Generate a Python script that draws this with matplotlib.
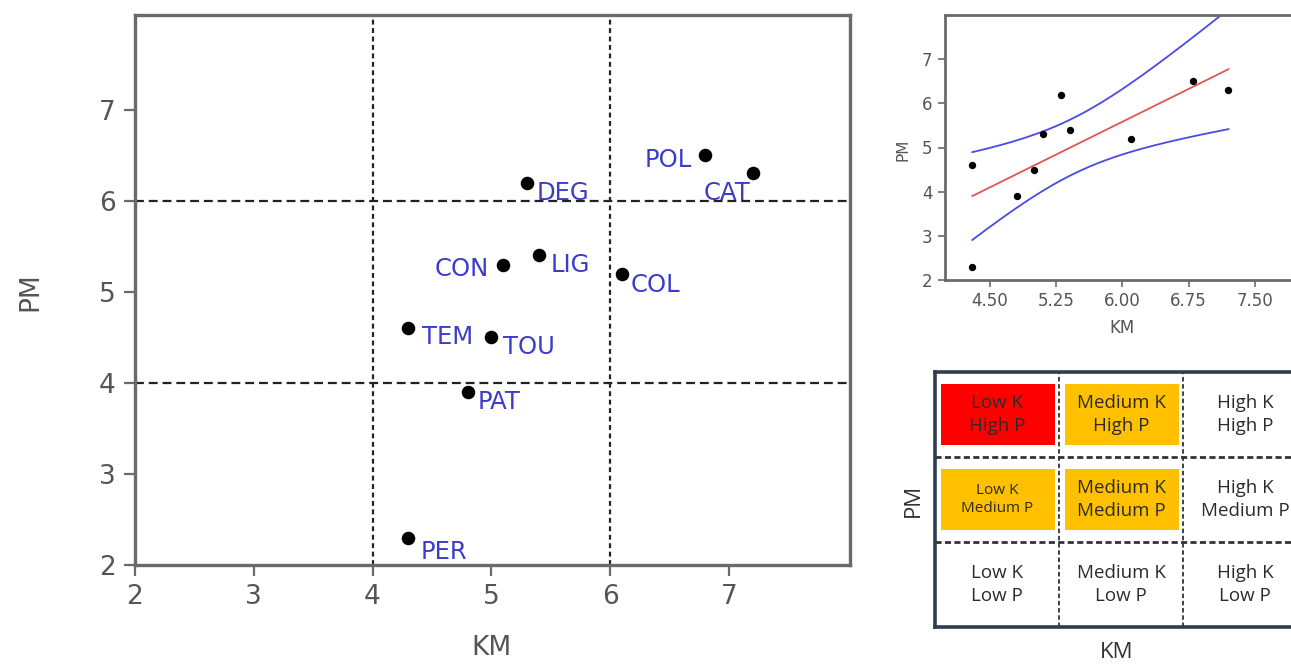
import numpy as np
import matplotlib
matplotlib.use("Agg")
import matplotlib.pyplot as plt
from matplotlib.patches import Rectangle

# ---------------- data ----------------
names = ["PER", "TEM", "PAT", "TOU", "CON", "LIG", "DEG", "COL", "POL", "CAT"]
km = [4.3, 4.3, 4.8, 5.0, 5.1, 5.4, 5.3, 6.1, 6.8, 7.2]
pm = [2.3, 4.6, 3.9, 4.5, 5.3, 5.4, 6.2, 5.2, 6.5, 6.3]

main_ticks = [2, 3, 4, 5, 6, 7]
km_thresholds = [4, 6]
pm_thresholds = [4, 6]

small_xticks = [4.50, 5.25, 6.00, 6.75, 7.50]
small_xticklabels = ["4.50", "5.25", "6.00", "6.75", "7.50"]
small_yticks = [2, 3, 4, 5, 6, 7]

k_levels = ["Low", "Medium", "High"]
p_levels = ["Low", "Medium", "High"]      # bottom -> top
cell_fill = [                              # rows bottom -> top, cols Low/Medium/High K
    [None, None, None],
    ["#ffc000", "#ffc000", None],
    ["#ff0000", "#ffc000", None],
]

# ---------------- styling / layout ----------------
W, H = 1291, 664
label_offsets = {   # pixel offsets of the point labels (ha)
    "PER": (12, -14, "left"), "TEM": (14, -9, "left"), "PAT": (10, -10, "left"),
    "TOU": (12, -10, "left"), "CON": (-14, -4, "right"), "LIG": (12, -10, "left"),
    "DEG": (10, -10, "left"), "COL": (9, -11, "left"), "POL": (-13, -5, "right"),
    "CAT": (-2, -20, "right"),
}
GRAY = "#555555"
SPINE = "#6a6a6a"
BLUE = "#3b3bcc"
GRID_FONT = ["Open Sans", "DejaVu Sans"]

fig = plt.figure(figsize=(W / 100, H / 100), dpi=100)
fig.patch.set_facecolor("white")

# ---------------- main scatter ----------------
ax = fig.add_axes([135 / W, 1 - 565 / H, 715 / W, 550 / H])
ax.set_xlim(2, 8.02)
ax.set_ylim(2, 8.04)
for v in km_thresholds:
    ax.axvline(v, color="#222222", lw=1.6, linestyle=(0, (2.2, 1.6)), zorder=1)
for v in pm_thresholds:
    ax.axhline(v, color="#222222", lw=1.6, linestyle=(0, (4, 2.2)), zorder=1)
ax.scatter(km, pm, s=95, color="black", zorder=3, linewidths=0)
for n, x, y in zip(names, km, pm):
    dx, dy, ha = label_offsets[n]
    ax.annotate(n, (x, y), xytext=(dx, dy), textcoords="offset pixels",
                ha=ha, va="center", color=BLUE, fontsize=17.5, zorder=4)
ax.set_xticks(main_ticks)
ax.set_yticks(main_ticks)
ax.tick_params(direction="out", length=8, width=1.6, colors=SPINE,
               labelcolor=GRAY, labelsize=19, pad=6)
for s in ax.spines.values():
    s.set_color(SPINE)
    s.set_linewidth(2.4)
fig.text(30 / W, 1 - 292 / H, "PM", rotation=90, ha="center", va="center",
         fontsize=19, color=GRAY)
fig.text(492 / W, 1 - 648 / H, "KM", ha="center", va="center",
         fontsize=19, color=GRAY)

# ---------------- small regression plot ----------------
ax2 = fig.add_axes([945 / W, 1 - 280 / H, 355 / W, 265 / H])
ax2.set_xlim(3.99, 8.01)
ax2.set_ylim(2, 8)
x = np.array(km)
y = np.array(pm)
n = len(x)
slope, intercept = np.polyfit(x, y, 1)
resid = y - (slope * x + intercept)
s_err = np.sqrt(np.sum(resid ** 2) / (n - 2))
t_val = 2.306  # t(0.975, df=8)
xs = np.linspace(x.min(), x.max(), 200)
yfit = slope * xs + intercept
ci = t_val * s_err * np.sqrt(1 / n + (xs - x.mean()) ** 2 / np.sum((x - x.mean()) ** 2))
ax2.plot(xs, yfit, color="#e05555", lw=1.3, zorder=2)
ax2.plot(xs, yfit + ci, color="#4a4ae6", lw=1.3, zorder=2)
ax2.plot(xs, yfit - ci, color="#4a4ae6", lw=1.3, zorder=2)
ax2.scatter(x, y, s=28, color="black", zorder=3, linewidths=0)
ax2.set_xticks(small_xticks)
ax2.set_xticklabels(small_xticklabels)
ax2.set_yticks(small_yticks)
ax2.tick_params(direction="out", length=5, width=1.2, colors=SPINE,
                labelcolor=GRAY, labelsize=12, pad=4)
for s in ax2.spines.values():
    s.set_color(SPINE)
    s.set_linewidth(2)
fig.text(903 / W, 1 - 150 / H, "PM", rotation=90, ha="center", va="center",
         fontsize=11, color=GRAY)
fig.text(1122 / W, 1 - 328 / H, "KM", ha="center", va="center",
         fontsize=12, color=GRAY)

# ---------------- classification grid ----------------
ax3 = fig.add_axes([935 / W, 1 - 627 / H, 372 / W, 255 / H])
ax3.set_xlim(0, 3)
ax3.set_ylim(0, 3)
ax3.set_xticks([])
ax3.set_yticks([])
for s in ax3.spines.values():
    s.set_color("#2e3e4e")
    s.set_linewidth(2.6)
for v in [1, 2]:
    ax3.axhline(v, color="#333333", lw=2, linestyle=(0, (2.2, 1.2)), zorder=1)
    ax3.axvline(v, color="#333333", lw=1.3, linestyle=(0, (2.5, 1.5)), zorder=1)
for r, p in enumerate(p_levels):
    for c, k in enumerate(k_levels):
        fill = cell_fill[r][c]
        if fill is not None:
            ax3.add_patch(Rectangle((c + 0.05, r + 0.14), 0.92, 0.72,
                                    facecolor=fill, edgecolor="none", zorder=2))
        small = fill is not None and c == 0 and r == 1
        ax3.text(c + 0.5, r + 0.5, f"{k} K\n{p} P", ha="center", va="center",
                 fontsize=11 if small else 13.5, color="#2b2b2b",
                 family=GRID_FONT, linespacing=1.3, zorder=3)
fig.text(913 / W, 1 - 500 / H, "PM", rotation=90, ha="center", va="center",
         fontsize=16, color="#333333", family=GRID_FONT)
fig.text(1117 / W, 1 - 653 / H, "KM", ha="center", va="center",
         fontsize=16, color="#333333", family=GRID_FONT)

fig.savefig("out.png", dpi=100, facecolor="white")
